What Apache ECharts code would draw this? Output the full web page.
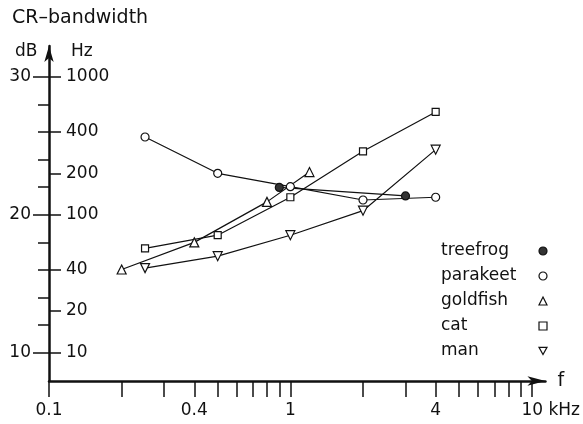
<!DOCTYPE html>
<html>
<head>
<meta charset="utf-8">
<script src="https://cdn.jsdelivr.net/npm/echarts@6/dist/echarts.min.js"></script>
<style>
  html, body { margin: 0; padding: 0; background: #fff; }
  #chart { width: 583px; height: 424px; }
</style>
</head>
<body>
<div id="chart"></div>
<script>
// frequencies in kHz, bandwidths in Hz
const treefrogF = [0.9, 3.0]
const treefrogBw = [158, 137]
const parakeetF = [0.25, 0.5, 1, 2, 4]
const parakeetBw = [367, 200, 160, 128, 134]
const goldfishF = [0.2, 0.4, 0.8, 1.2]
const goldfishBw = [40, 63, 124, 204]
const catF = [0.25, 0.5, 1, 2, 4]
const catBw = [57, 71, 134, 289, 558]
const manF = [0.25, 0.5, 1, 2, 4]
const manBw = [41, 50, 71, 107, 297]

// axis ticks / labels
const freqTicks = [0.1, 0.2, 0.3, 0.4, 0.5, 0.6, 0.7, 0.8, 0.9, 1, 2, 3, 4, 5, 6, 7, 8, 9, 10]
const freqLabels = [0.1, 0.4, 1, 4, 10]
const hzLabels = [10, 20, 40, 100, 200, 400, 1000]
const dbMajor = [10, 20, 30]
const dbMinor = [12, 14, 16, 18, 22, 24, 26, 28]

const FONT = 'DejaVu Sans'
const INK = '#111'
const downTri = 'path://M0,0L10,0L5,9Z'

const pairs = (xs, ys) => xs.map((x, i) => [x, ys[i]])
const dbToHz = d => Math.pow(10, d / 10)

const Y_MIN = 6.2
const Y_MAX = 1681

const yBase = {
    type: 'log',
    logBase: 10,
    min: Y_MIN,
    max: Y_MAX,
    position: 'left',
    splitLine: { show: false },
    axisLine: { show: false }
}

const chart = echarts.init(document.getElementById('chart'))

const mkSeries = (name, xs, ys, symbol, size, fill) => ({
    name,
    type: 'line',
    data: pairs(xs, ys),
    symbol,
    symbolSize: size,
    showAllSymbol: true,
    lineStyle: { color: INK, width: 1.2 },
    itemStyle: { color: fill, borderColor: INK, borderWidth: 1.2 },
    z: 3
})

chart.setOption({
    animation: false,
    backgroundColor: '#fff',
    grid: { left: 49, right: 33, top: 46, bottom: 43 },
    xAxis: {
        type: 'log',
        logBase: 10,
        min: 0.1,
        max: 11.4,
        name: 'f',
        nameLocation: 'end',
        nameGap: 12,
        nameTextStyle: { fontFamily: FONT, fontSize: 19, color: INK },
        axisLine: {
            lineStyle: { color: INK, width: 2.5 },
            symbol: ['none', 'arrow'],
            symbolSize: [7, 18]
        },
        axisTick: {
            customValues: freqTicks,
            length: 16,
            lineStyle: { color: INK, width: 1.5 }
        },
        minorTick: { show: false },
        splitLine: { show: false },
        axisLabel: {
            customValues: freqLabels,
            margin: 21,
            fontFamily: FONT,
            fontSize: 17,
            color: INK,
            formatter: v => (Math.abs(v - 10) < 1e-6 ? '{s|}10 kHz' : String(+v.toPrecision(3))),
            rich: { s: { width: 38 } }
        }
    },
    yAxis: [
        // Hz axis: ticks pointing right + labels
        Object.assign({}, yBase, {
            axisLine: {
                show: true,
                lineStyle: { color: INK, width: 2.5 },
                symbol: ['none', 'arrow'],
                symbolSize: [7, 16]
            },
            axisTick: {
                inside: true,
                customValues: hzLabels,
                length: 12,
                lineStyle: { color: INK, width: 1.5 }
            },
            axisLabel: {
                inside: true,
                customValues: hzLabels,
                margin: 17,
                fontFamily: FONT,
                fontSize: 17,
                color: INK,
                formatter: v => String(Math.round(v))
            }
        }),
        // dB axis, long ticks + labels
        Object.assign({}, yBase, {
            axisTick: {
                customValues: dbMajor.map(dbToHz),
                length: 16,
                lineStyle: { color: INK, width: 1.5 }
            },
            axisLabel: {
                customValues: dbMajor.map(dbToHz),
                margin: 18,
                fontFamily: FONT,
                fontSize: 17,
                color: INK,
                formatter: v => String(Math.round(10 * Math.log10(v)))
            }
        }),
        // dB axis, short ticks
        Object.assign({}, yBase, {
            axisTick: {
                customValues: dbMinor.map(dbToHz),
                length: 11,
                lineStyle: { color: INK, width: 1.5 }
            },
            axisLabel: { show: false }
        })
    ],
    legend: {
        orient: 'vertical',
        left: 436,
        top: 236,
        align: 'right',
        itemWidth: 8,
        itemHeight: 8,
        itemGap: 5,
        selectedMode: false,
        itemStyle: { borderWidth: 1.2 },
        textStyle: {
            fontFamily: FONT,
            fontSize: 17,
            color: INK,
            lineHeight: 20,
            rich: { t: { width: 93, align: 'left', fontFamily: FONT, fontSize: 17, color: INK } }
        },
        formatter: name => '{t|' + name + '}',
        data: [
            { name: 'treefrog', icon: 'circle' },
            { name: 'parakeet', icon: 'circle' },
            { name: 'goldfish', icon: 'triangle' },
            { name: 'cat', icon: 'rect' },
            { name: 'man', icon: downTri }
        ]
    },
    graphic: [
        { type: 'text', left: 12, top: 9, style: { text: 'CR–bandwidth', font: '19px "DejaVu Sans"', fill: INK } },
        { type: 'text', left: 15, top: 43, style: { text: 'dB', font: '17px "DejaVu Sans"', fill: INK } },
        { type: 'text', left: 71, top: 43, style: { text: 'Hz', font: '17px "DejaVu Sans"', fill: INK } }
    ],
    series: [
        mkSeries('treefrog', treefrogF, treefrogBw, 'circle', 8, '#333'),
        mkSeries('parakeet', parakeetF, parakeetBw, 'circle', 8, '#fff'),
        mkSeries('goldfish', goldfishF, goldfishBw, 'triangle', 9, '#fff'),
        mkSeries('cat', catF, catBw, 'rect', 7, '#fff'),
        mkSeries('man', manF, manBw, downTri, 9, '#fff')
    ]
})
</script>
</body>
</html>
